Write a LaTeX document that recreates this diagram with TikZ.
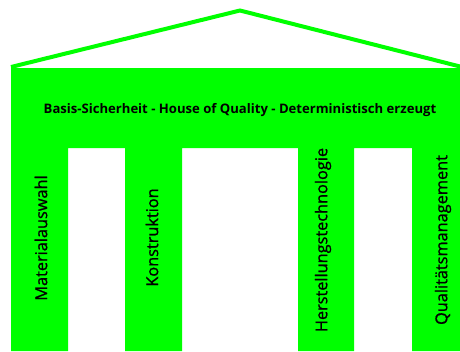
\documentclass[tikz,border=0pt]{standalone}
\usepackage{fontspec}
\setmainfont{Open Sans}
\newfontfamily\pillarfont[FakeBold=1]{Open Sans}
\definecolor{hgreen}{HTML}{00FF00}
\begin{document}
\begin{tikzpicture}[x=1pt,y=-1pt,
  roof/.style={draw=hgreen,line width=4pt,line join=miter},
  body/.style={fill=hgreen,draw=none},
  title/.style={font=\bfseries\fontsize{13.1}{15}\selectfont,inner sep=0pt},
  pillar/.style={rotate=90,font=\pillarfont\fontsize{16.3}{18}\selectfont,inner sep=0pt}]
\useasboundingbox (0,0) rectangle (460,351);
\coordinate (rl) at (11,67);
\coordinate (apex) at (240,10.5);
\coordinate (rr) at (462,67);
\draw[roof] (rl) -- (apex) -- (rr);
\path[body] (11,68) -- (460,68) -- (460,351) -- (412,351) -- (412,148)
  -- (354,148) -- (354,351) -- (298,351) -- (298,148) -- (182,148)
  -- (182,351) -- (125,351) -- (125,148) -- (68,148) -- (68,351)
  -- (11,351) -- cycle;
\node[title] (t) at (240,110) {Basis-Sicherheit - House of Quality - Deterministisch erzeugt};
\node[pillar] (p1) at (41,238) {Materialauswahl};
\node[pillar] (p2) at (152,237.5) {Konstruktion};
\node[pillar] (p3) at (323,240) {Herstellungstechnologie};
\node[pillar] (p4) at (443,240) {Qualitätsmanagement};
\end{tikzpicture}
\end{document}
